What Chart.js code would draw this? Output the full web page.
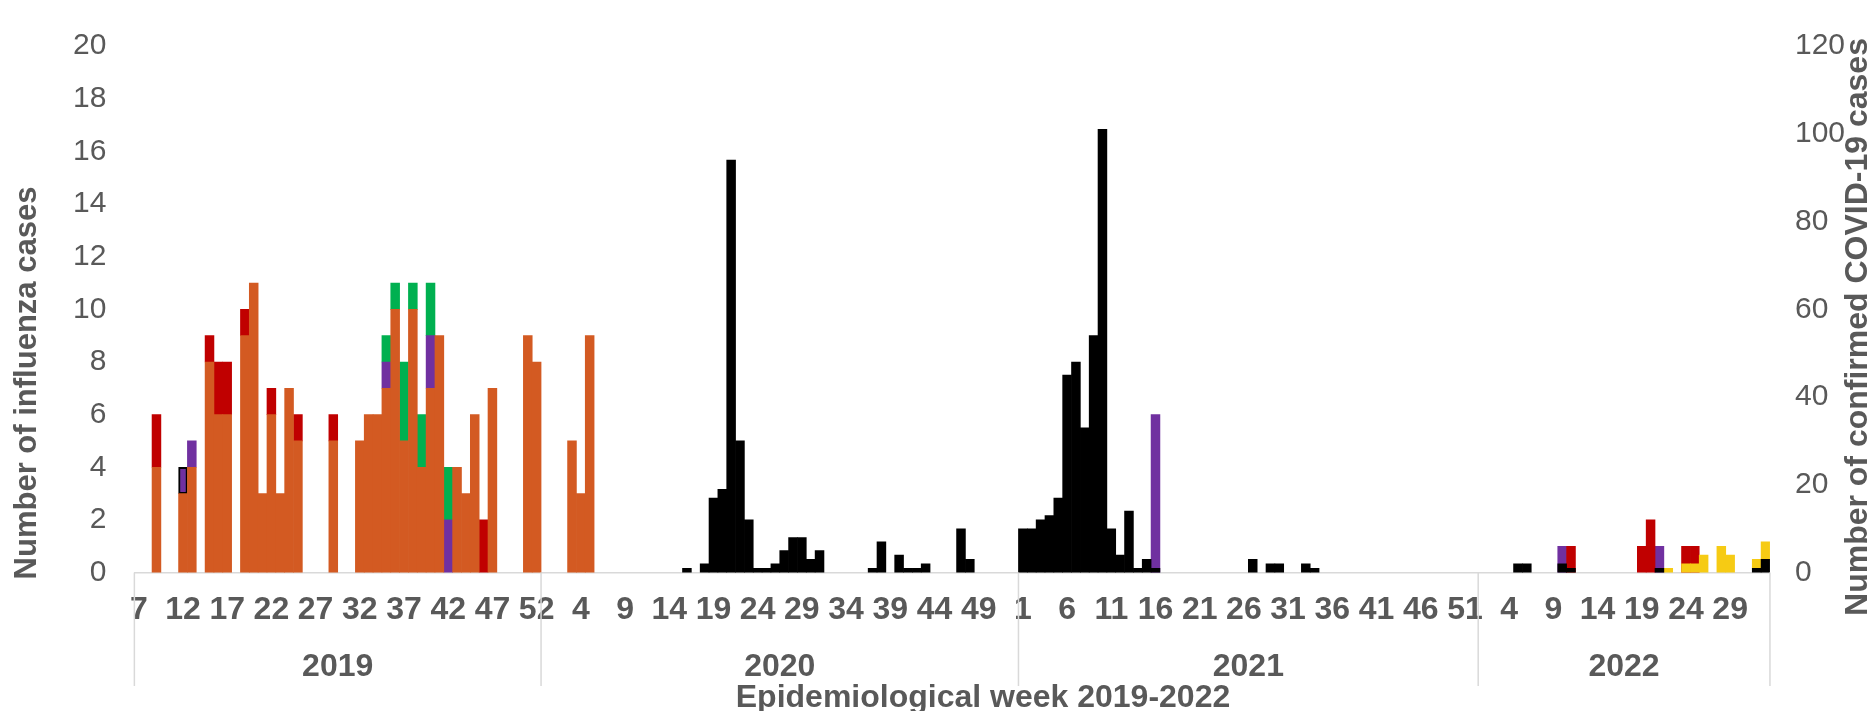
<!DOCTYPE html>
<html>
<head>
<meta charset="utf-8">
<title>Influenza and COVID-19 cases by epidemiological week, 2019-2022</title>
<script src="https://cdn.jsdelivr.net/npm/chart.js@4.4.1/dist/chart.umd.min.js"></script>
<style>
  html, body { margin: 0; padding: 0; background: #fff; }
  #wrap { width: 1873px; height: 711px; }
</style>
</head>
<body>
<div id="wrap"><canvas id="fluChart" width="1873" height="711"></canvas></div>
<script>
/* weeks shown per year */
const YEARS = ["2019", "2020", "2021", "2022"];
const FIRST_WEEK = [7, 0, 1, 1];
const LAST_WEEK = [52, 53, 52, 33];

/* influenza cases (left axis), week: count */
const FLU_H3N2 = {
  2019: { 9: 4, 12: 3, 13: 4, 15: 8, 16: 6, 17: 6, 19: 9, 20: 11, 21: 3, 22: 6, 23: 3, 24: 7,
          25: 5, 29: 5, 32: 5, 33: 6, 34: 6, 35: 7, 36: 10, 37: 5, 38: 10, 39: 4, 40: 7,
          41: 9, 43: 4, 44: 3, 45: 6, 47: 7, 51: 9, 52: 8 },
  2020: { 3: 5, 4: 3, 5: 9 },
};
const FLU_H1N1 = {
  2019: { 9: 2, 15: 1, 16: 2, 17: 2, 19: 1, 22: 1, 25: 1, 29: 1, 46: 2 },
  2022: { 11: 1, 19: 1, 20: 2, 24: 1, 25: 1 },
};
const FLU_BVIC = {
  2019: { 13: 1, 35: 1, 40: 2, 42: 2 },
  2021: { 16: 6 },
  2022: { 10: 1, 21: 1 },
};
const FLU_B_ND = {
  2019: { 12: 1 },
};
const FLU_BYAM = {
  2019: { 35: 1, 36: 1, 37: 3, 38: 1, 39: 2, 40: 2, 42: 2 },
};

/* confirmed COVID-19 cases (right axis) */
const COVID = {
  2020: { 16: 1, 18: 2, 19: 17, 20: 19, 21: 94, 22: 30, 23: 12, 24: 1, 25: 1, 26: 2, 27: 5,
          28: 8, 29: 8, 30: 3, 31: 5, 37: 1, 38: 7, 40: 4, 41: 1, 42: 1, 43: 2, 47: 10, 48: 3 },
  2021: { 1: 10, 2: 10, 3: 12, 4: 13, 5: 17, 6: 45, 7: 48, 8: 33, 9: 54, 10: 101, 11: 10,
          12: 4, 13: 14, 14: 1, 15: 3, 16: 1, 27: 3, 29: 2, 30: 2, 33: 2, 34: 1 },
  2022: { 5: 2, 6: 2, 10: 2, 11: 1, 21: 1, 32: 1, 33: 3 },
};
const COVID_OTHER = {
  2022: { 22: 1, 24: 2, 25: 2, 26: 4, 28: 6, 29: 4, 32: 2, 33: 4 },
};

const FONT = "'Liberation Sans', Arial, sans-serif";
const TEXT_GREY = "#595959";
const LINE_GREY = "#d9d9d9";

// one category per week
const WEEK_YEAR = [];
const WEEK_NUM = [];
YEARS.forEach((yr, i) => {
  for (let w = FIRST_WEEK[i]; w <= LAST_WEEK[i]; w++) {
    WEEK_YEAR.push(yr);
    WEEK_NUM.push(w);
  }
});
const WEEK_LABELS = WEEK_NUM.map(String);

function toSeries(byYear) {
  return WEEK_NUM.map((w, i) => {
    const yr = byYear[WEEK_YEAR[i]];
    return yr && yr[w] !== undefined ? yr[w] : null;
  });
}

function bars(label, data, color, axis, extra) {
  return Object.assign({
    label,
    data: toSeries(data),
    backgroundColor: color,
    borderWidth: 0,
    yAxisID: axis,
    stack: "week",
    barPercentage: 1,
    categoryPercentage: 1,
  }, extra || {});
}

// year groups under the week labels, plus the axis titles
const yearAxis = {
  id: "yearAxis",
  afterDraw(chart) {
    const { ctx, chartArea } = chart;
    const x = chart.scales.x;
    const half = (x.getPixelForValue(1) - x.getPixelForValue(0)) / 2;
    const vline = (px) => {
      ctx.beginPath();
      ctx.moveTo(px, chartArea.bottom);
      ctx.lineTo(px, 686);
      ctx.stroke();
    };
    ctx.save();
    ctx.strokeStyle = LINE_GREY;
    ctx.lineWidth = 1.5;
    ctx.fillStyle = TEXT_GREY;
    ctx.font = `bold 32px ${FONT}`;
    ctx.textAlign = "center";
    ctx.textBaseline = "middle";
    let start = 0;
    YEARS.forEach((yr, i) => {
      const n = LAST_WEEK[i] - FIRST_WEEK[i] + 1;
      const left = x.getPixelForValue(start) - half;
      const right = x.getPixelForValue(start + n - 1) + half;
      vline(left);
      if (i === YEARS.length - 1) vline(right);
      ctx.fillText(yr, (left + right) / 2, 667);
      start += n;
    });

    ctx.textBaseline = "alphabetic";
    ctx.fillText("Epidemiological week 2019-2022", 983, 707);

    ctx.textBaseline = "middle";
    ctx.font = `bold 31px ${FONT}`;
    ctx.save();
    ctx.translate(27, 383);
    ctx.rotate(-Math.PI / 2);
    ctx.fillText("Number of influenza cases", 0, 0);
    ctx.restore();

    ctx.font = `bold 32px ${FONT}`;
    ctx.save();
    ctx.translate(1858, 327);
    ctx.rotate(-Math.PI / 2);
    ctx.fillText("Number of confirmed COVID-19 cases", 0, 0);
    ctx.restore();
    ctx.restore();
  },
};

new Chart(document.getElementById("fluChart"), {
  type: "bar",
  data: {
    labels: WEEK_LABELS,
    datasets: [
      // COVID first so it is painted over the influenza columns
      bars("Confirmed COVID-19 cases", COVID, "#000000", "y1"),
      bars("Other COVID-19 cases", COVID_OTHER, "#f6cb14", "y1"),
      bars("A(H3N2)", FLU_H3N2, "#d35a22", "y"),
      bars("A(H1N1)pdm09", FLU_H1N1, "#c00000", "y"),
      bars("B/Victoria", FLU_BVIC, "#7030a0", "y"),
      bars("B lineage not determined", FLU_B_ND, "#7030a0", "y",
           { borderColor: "#000000", borderWidth: 2, borderSkipped: false }),
      bars("B/Yamagata", FLU_BYAM, "#00b050", "y"),
    ],
  },
  options: {
    responsive: false,
    animation: false,
    // chart area ends up at x 134..1770, y 27..573
    layout: { padding: { left: 45, right: 3, top: 27, bottom: 64 } },
    plugins: {
      legend: { display: false },
    },
    scales: {
      x: {
        stacked: true,
        grid: { display: false, drawTicks: false },
        border: { display: true, color: LINE_GREY, width: 1.5 },
        ticks: {
          autoSkip: false,
          maxRotation: 0,
          minRotation: 0,
          padding: 18,
          color: TEXT_GREY,
          font: { family: FONT, size: 32, weight: "bold" },
          callback: (v, i) => (i % 5 === 0 ? WEEK_LABELS[i] : ""),
        },
      },
      y: {
        position: "left",
        stacked: true,
        min: 0,
        max: 20,
        grid: { display: false, drawTicks: false },
        border: { display: false },
        ticks: {
          stepSize: 2,
          padding: 28,
          color: TEXT_GREY,
          font: { family: FONT, size: 30 },
        },
      },
      y1: {
        position: "right",
        stacked: true,
        min: 0,
        max: 120,
        grid: { display: false, drawTicks: false },
        border: { display: false },
        ticks: {
          stepSize: 20,
          padding: 25,
          color: TEXT_GREY,
          font: { family: FONT, size: 30 },
        },
      },
    },
  },
  plugins: [yearAxis],
});
</script>
</body>
</html>
